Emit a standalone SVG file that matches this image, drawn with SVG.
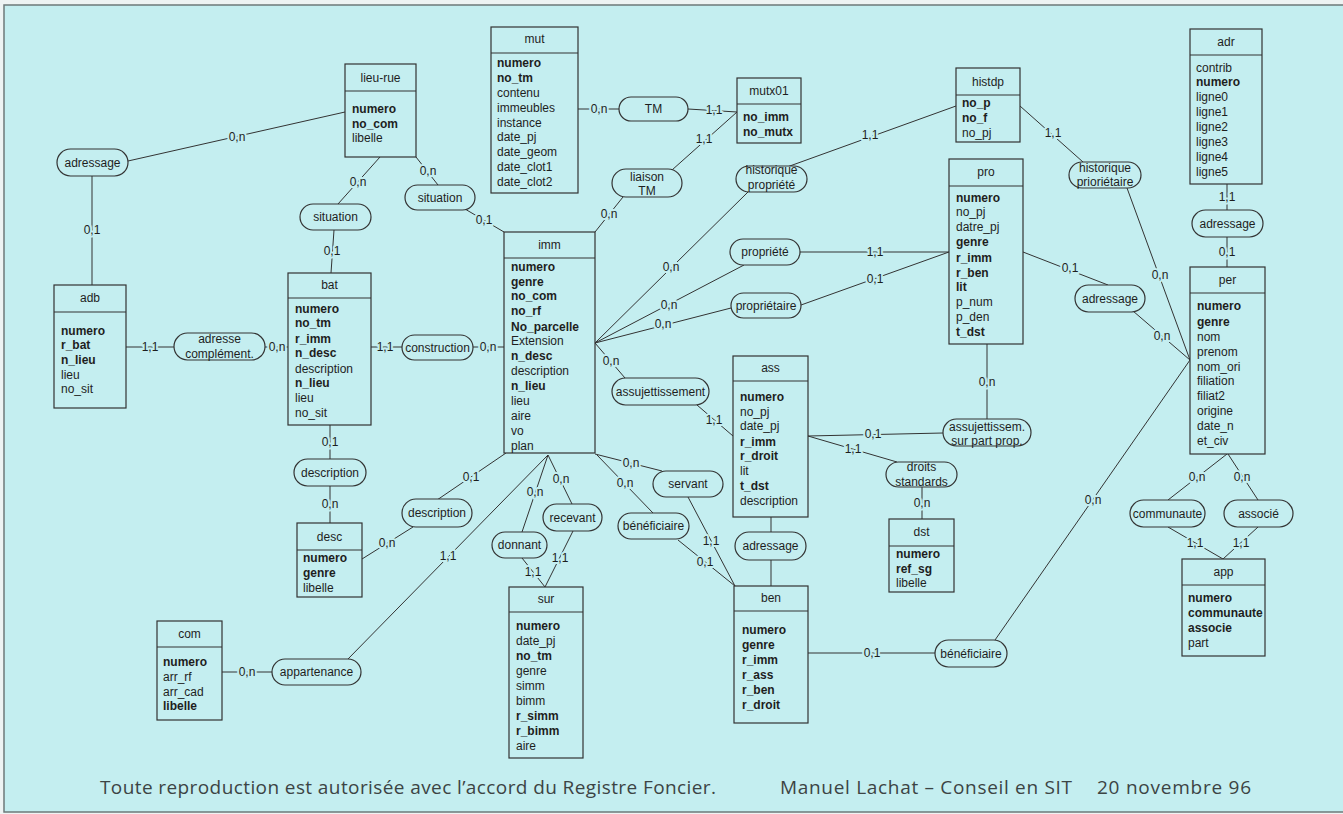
<svg xmlns="http://www.w3.org/2000/svg" width="1343" height="814" viewBox="0 0 1343 814">
<style>
.bg{fill:#c4eef0}
.frame{fill:none;stroke:#6d7a7a;stroke-width:1.5}
.box{fill:#c4eef0;stroke:#333;stroke-width:1.2}
.div{stroke:#333;stroke-width:1.2}
.rel{fill:#c4eef0;stroke:#333;stroke-width:1.2}
text{font-family:"Liberation Sans",Arial,sans-serif;font-size:12px;fill:#1e1e1e}
.ti,.c{text-anchor:middle}
.b{font-weight:bold}
#connectors line{stroke:#333;stroke-width:1}
.card{text-anchor:middle;stroke:#c4eef0;stroke-width:4;paint-order:stroke;stroke-linejoin:round}
.foot{font-family:"Open Sans","Liberation Sans",sans-serif;font-size:19px;fill:#3c4444}
</style>
<rect x="0" y="0" width="1343" height="814" fill="#eef3f3"/>
<rect class="bg" x="4" y="5" width="1345" height="807"/>
<rect class="frame" x="4" y="5" width="1345" height="807"/>

<g id="connectors">
<line x1="128" y1="161" x2="345" y2="112"/>
<line x1="92" y1="176" x2="92" y2="285"/>
<line x1="380" y1="157" x2="338" y2="204"/>
<line x1="334" y1="230" x2="331" y2="273"/>
<line x1="416" y1="157" x2="438" y2="185"/>
<line x1="465" y1="209" x2="504" y2="232"/>
<line x1="578" y1="109" x2="619" y2="109"/>
<line x1="688" y1="109" x2="737" y2="112"/>
<line x1="672" y1="170" x2="737" y2="112"/>
<line x1="623" y1="197" x2="595" y2="232"/>
<line x1="787" y1="167" x2="956" y2="106"/>
<line x1="748" y1="192" x2="595" y2="343"/>
<line x1="800" y1="252" x2="949" y2="252"/>
<line x1="744" y1="265" x2="595" y2="343"/>
<line x1="801" y1="305" x2="949" y2="252"/>
<line x1="731" y1="308" x2="595" y2="343"/>
<line x1="1020" y1="106" x2="1083" y2="162"/>
<line x1="1127" y1="188" x2="1190" y2="360"/>
<line x1="1227" y1="184" x2="1227" y2="210"/>
<line x1="1227" y1="237" x2="1227" y2="267"/>
<line x1="1023" y1="252" x2="1108" y2="285"/>
<line x1="1133" y1="311" x2="1190" y2="360"/>
<line x1="126" y1="347" x2="174" y2="347"/>
<line x1="265" y1="347" x2="288" y2="347"/>
<line x1="371" y1="347" x2="402" y2="347"/>
<line x1="473" y1="347" x2="504" y2="347"/>
<line x1="595" y1="343" x2="625" y2="378"/>
<line x1="697" y1="405" x2="733" y2="436"/>
<line x1="808" y1="436" x2="943" y2="433"/>
<line x1="808" y1="436" x2="897" y2="462"/>
<line x1="987" y1="344" x2="987" y2="419"/>
<line x1="922" y1="487" x2="922" y2="519"/>
<line x1="771" y1="517" x2="771" y2="532"/>
<line x1="771" y1="560" x2="771" y2="586"/>
<line x1="330" y1="425" x2="330" y2="459"/>
<line x1="330" y1="486" x2="330" y2="523"/>
<line x1="506" y1="453" x2="437" y2="500"/>
<line x1="413" y1="527" x2="362" y2="559"/>
<line x1="548" y1="455" x2="348" y2="659"/>
<line x1="222" y1="672" x2="272" y2="672"/>
<line x1="548" y1="455" x2="522" y2="532"/>
<line x1="548" y1="455" x2="572" y2="504"/>
<line x1="522" y1="558" x2="545" y2="587"/>
<line x1="573" y1="531" x2="545" y2="587"/>
<line x1="595" y1="454" x2="662" y2="471"/>
<line x1="688" y1="497" x2="735" y2="586"/>
<line x1="597" y1="455" x2="653" y2="513"/>
<line x1="678" y1="540" x2="735" y2="586"/>
<line x1="808" y1="653" x2="935" y2="653"/>
<line x1="995" y1="640" x2="1190" y2="360"/>
<line x1="1227" y1="454" x2="1168" y2="500"/>
<line x1="1228" y1="454" x2="1258" y2="500"/>
<line x1="1168" y1="527" x2="1223" y2="559"/>
<line x1="1258" y1="527" x2="1223" y2="559"/>
<text class="card" x="237" y="141">0,n</text>
<text class="card" x="92" y="234">0,1</text>
<text class="card" x="358" y="186">0,n</text>
<text class="card" x="332" y="255">0,1</text>
<text class="card" x="428" y="175">0,n</text>
<text class="card" x="484" y="224">0,1</text>
<text class="card" x="599" y="113">0,n</text>
<text class="card" x="714" y="114">1,1</text>
<text class="card" x="704" y="143">1,1</text>
<text class="card" x="609" y="218">0,n</text>
<text class="card" x="870" y="139">1,1</text>
<text class="card" x="671" y="271">0,n</text>
<text class="card" x="875" y="256">1,1</text>
<text class="card" x="669" y="309">0,n</text>
<text class="card" x="875" y="283">0,1</text>
<text class="card" x="663" y="328">0,n</text>
<text class="card" x="1053" y="137">1,1</text>
<text class="card" x="1160" y="279">0,n</text>
<text class="card" x="1227" y="201">1,1</text>
<text class="card" x="1227" y="256">0,1</text>
<text class="card" x="1070" y="272">0,1</text>
<text class="card" x="1162" y="340">0,n</text>
<text class="card" x="150" y="351">1,1</text>
<text class="card" x="277" y="351">0,n</text>
<text class="card" x="385" y="351">1,1</text>
<text class="card" x="488" y="351">0,n</text>
<text class="card" x="611" y="365">0,n</text>
<text class="card" x="714" y="424">1,1</text>
<text class="card" x="873" y="438">0,1</text>
<text class="card" x="853" y="453">1,1</text>
<text class="card" x="987" y="386">0,n</text>
<text class="card" x="922" y="507">0,n</text>
<text class="card" x="330" y="446">0,1</text>
<text class="card" x="330" y="508">0,n</text>
<text class="card" x="471" y="481">0,1</text>
<text class="card" x="387" y="547">0,n</text>
<text class="card" x="448" y="560">1,1</text>
<text class="card" x="247" y="676">0,n</text>
<text class="card" x="535" y="496">0,n</text>
<text class="card" x="561" y="483">0,n</text>
<text class="card" x="533" y="576">1,1</text>
<text class="card" x="560" y="562">1,1</text>
<text class="card" x="631" y="467">0,n</text>
<text class="card" x="711" y="545">1,1</text>
<text class="card" x="625" y="487">0,n</text>
<text class="card" x="705" y="566">0,1</text>
<text class="card" x="872" y="657">0,1</text>
<text class="card" x="1093" y="504">0,n</text>
<text class="card" x="1197" y="481">0,n</text>
<text class="card" x="1242" y="481">0,n</text>
<text class="card" x="1195" y="547">1,1</text>
<text class="card" x="1241" y="547">1,1</text>
</g>

<g id="lieu-rue"><rect class="box" x="345" y="64" width="71" height="93"/><line class="div" x1="345" y1="91" x2="416" y2="91"/><text class="ti" x="380.5" y="82">lieu-rue</text>
<text class="b" x="352" y="113">numero</text><text class="b" x="352" y="128">no_com</text><text x="352" y="142">libelle</text></g>

<g id="mut"><rect class="box" x="491" y="27" width="87" height="166"/><line class="div" x1="491" y1="53" x2="578" y2="53"/><text class="ti" x="534.5" y="43">mut</text>
<text class="b" x="497" y="67">numero</text><text class="b" x="497" y="82">no_tm</text><text x="497" y="97">contenu</text><text x="497" y="112">immeubles</text><text x="497" y="127">instance</text><text x="497" y="141">date_pj</text><text x="497" y="156">date_geom</text><text x="497" y="171">date_clot1</text><text x="497" y="186">date_clot2</text></g>

<g id="mutx01"><rect class="box" x="737" y="78" width="64" height="65"/><line class="div" x1="737" y1="104" x2="801" y2="104"/><text class="ti" x="769" y="95">mutx01</text>
<text class="b" x="743" y="121">no_imm</text><text class="b" x="743" y="136">no_mutx</text></g>

<g id="histdp"><rect class="box" x="956" y="68" width="64" height="74"/><line class="div" x1="956" y1="95" x2="1020" y2="95"/><text class="ti" x="988" y="86">histdp</text>
<text class="b" x="962" y="107">no_p</text><text class="b" x="962" y="122">no_f</text><text x="962" y="137">no_pj</text></g>

<g id="adr"><rect class="box" x="1190" y="29" width="72" height="155"/><line class="div" x1="1190" y1="55" x2="1262" y2="55"/><text class="ti" x="1226" y="46">adr</text>
<text x="1196" y="72">contrib</text><text class="b" x="1196" y="86">numero</text><text x="1196" y="101">ligne0</text><text x="1196" y="116">ligne1</text><text x="1196" y="131">ligne2</text><text x="1196" y="146">ligne3</text><text x="1196" y="161">ligne4</text><text x="1196" y="176">ligne5</text></g>

<g id="pro"><rect class="box" x="949" y="159" width="74" height="185"/><line class="div" x1="949" y1="186" x2="1023" y2="186"/><text class="ti" x="986" y="176">pro</text>
<text class="b" x="956" y="202">numero</text><text x="956" y="216">no_pj</text><text x="956" y="231">datre_pj</text><text class="b" x="956" y="246">genre</text><text class="b" x="956" y="262">r_imm</text><text class="b" x="956" y="277">r_ben</text><text class="b" x="956" y="291">lit</text><text x="956" y="306">p_num</text><text x="956" y="321">p_den</text><text class="b" x="956" y="336">t_dst</text></g>

<g id="per"><rect class="box" x="1190" y="267" width="75" height="187"/><line class="div" x1="1190" y1="293" x2="1265" y2="293"/><text class="ti" x="1227.5" y="284">per</text>
<text class="b" x="1197" y="310">numero</text><text class="b" x="1197" y="326">genre</text><text x="1197" y="341">nom</text><text x="1197" y="356">prenom</text><text x="1197" y="371">nom_ori</text><text x="1197" y="385">filiation</text><text x="1197" y="400">filiat2</text><text x="1197" y="415">origine</text><text x="1197" y="430">date_n</text><text x="1197" y="445">et_civ</text></g>

<g id="imm"><rect class="box" x="504" y="232" width="91" height="221"/><line class="div" x1="504" y1="258" x2="595" y2="258"/><text class="ti" x="549.5" y="249">imm</text>
<text class="b" x="511" y="271">numero</text><text class="b" x="511" y="286">genre</text><text class="b" x="511" y="300">no_com</text><text class="b" x="511" y="315">no_rf</text><text class="b" x="511" y="331">No_parcelle</text><text x="511" y="345">Extension</text><text class="b" x="511" y="360">n_desc</text><text x="511" y="375">description</text><text class="b" x="511" y="390">n_lieu</text><text x="511" y="405">lieu</text><text x="511" y="420">aire</text><text x="511" y="435">vo</text><text x="511" y="450">plan</text></g>

<g id="bat"><rect class="box" x="288" y="273" width="83" height="152"/><line class="div" x1="288" y1="298" x2="371" y2="298"/><text class="ti" x="329.5" y="289">bat</text>
<text class="b" x="295" y="313">numero</text><text class="b" x="295" y="327">no_tm</text><text class="b" x="295" y="343">r_imm</text><text class="b" x="295" y="357">n_desc</text><text x="295" y="373">description</text><text class="b" x="295" y="387">n_lieu</text><text x="295" y="402">lieu</text><text x="295" y="417">no_sit</text></g>

<g id="adb"><rect class="box" x="54" y="285" width="72" height="123"/><line class="div" x1="54" y1="312" x2="126" y2="312"/><text class="ti" x="90" y="302">adb</text>
<text class="b" x="61" y="335">numero</text><text class="b" x="61" y="349">r_bat</text><text class="b" x="61" y="364">n_lieu</text><text x="61" y="379">lieu</text><text x="61" y="393">no_sit</text></g>

<g id="ass"><rect class="box" x="733" y="356" width="75" height="161"/><line class="div" x1="733" y1="381" x2="808" y2="381"/><text class="ti" x="770.5" y="372">ass</text>
<text class="b" x="740" y="401">numero</text><text x="740" y="416">no_pj</text><text x="740" y="430">date_pj</text><text class="b" x="740" y="446">r_imm</text><text class="b" x="740" y="460">r_droit</text><text x="740" y="475">lit</text><text class="b" x="740" y="490">t_dst</text><text x="740" y="505">description</text></g>

<g id="dst"><rect class="box" x="889" y="519" width="65" height="73"/><line class="div" x1="889" y1="546" x2="954" y2="546"/><text class="ti" x="921.5" y="536">dst</text>
<text class="b" x="896" y="558">numero</text><text class="b" x="896" y="573">ref_sg</text><text x="896" y="587">libelle</text></g>

<g id="ben"><rect class="box" x="734" y="586" width="74" height="137"/><line class="div" x1="734" y1="611" x2="808" y2="611"/><text class="ti" x="771" y="602">ben</text>
<text class="b" x="742" y="634">numero</text><text class="b" x="742" y="649">genre</text><text class="b" x="742" y="664">r_imm</text><text class="b" x="742" y="679">r_ass</text><text class="b" x="742" y="694">r_ben</text><text class="b" x="742" y="709">r_droit</text></g>

<g id="sur"><rect class="box" x="509" y="587" width="74" height="171"/><line class="div" x1="509" y1="612" x2="583" y2="612"/><text class="ti" x="546" y="603">sur</text>
<text class="b" x="516" y="630">numero</text><text x="516" y="645">date_pj</text><text class="b" x="516" y="660">no_tm</text><text x="516" y="675">genre</text><text x="516" y="690">simm</text><text x="516" y="705">bimm</text><text class="b" x="516" y="720">r_simm</text><text class="b" x="516" y="735">r_bimm</text><text x="516" y="750">aire</text></g>

<g id="desc"><rect class="box" x="297" y="523" width="65" height="74"/><line class="div" x1="297" y1="550" x2="362" y2="550"/><text class="ti" x="329.5" y="541">desc</text>
<text class="b" x="303" y="562">numero</text><text class="b" x="303" y="577">genre</text><text x="303" y="592">libelle</text></g>

<g id="com"><rect class="box" x="157" y="621" width="65" height="99"/><line class="div" x1="157" y1="647" x2="222" y2="647"/><text class="ti" x="189.5" y="638">com</text>
<text class="b" x="163" y="666">numero</text><text x="163" y="681">arr_rf</text><text x="163" y="696">arr_cad</text><text class="b" x="163" y="710">libelle</text></g>

<g id="app"><rect class="box" x="1182" y="559" width="83" height="97"/><line class="div" x1="1182" y1="585" x2="1265" y2="585"/><text class="ti" x="1223.5" y="576">app</text>
<text class="b" x="1188" y="602">numero</text><text class="b" x="1188" y="617">communaute</text><text class="b" x="1188" y="632">associe</text><text x="1188" y="647">part</text></g>

<g id="r-adressage-1"><rect class="rel" x="57" y="149" width="71" height="27" rx="13.5"/><text class="c" x="92.5" y="166.5">adressage</text></g>
<g id="r-situation-1"><rect class="rel" x="300" y="204" width="71" height="26" rx="13"/><text class="c" x="335.5" y="221">situation</text></g>
<g id="r-situation-2"><rect class="rel" x="405" y="185" width="70" height="25" rx="12.5"/><text class="c" x="440" y="201.5">situation</text></g>
<g id="r-tm"><rect class="rel" x="619" y="97" width="69" height="24" rx="12"/><text class="c" x="653.5" y="113">TM</text></g>
<g id="r-liaison-tm"><rect class="rel" x="612" y="169" width="70" height="28" rx="14"/><text class="c" x="647" y="181">liaison</text><text class="c" x="647" y="195">TM</text></g>
<g id="r-hist-prop"><rect class="rel" x="736" y="166" width="71" height="26" rx="13"/><text class="c" x="771.5" y="174">historique</text><text class="c" x="771.5" y="189">propriété</text></g>
<g id="r-hist-prio"><rect class="rel" x="1069" y="162" width="72" height="26" rx="13"/><text class="c" x="1105" y="172">historique</text><text class="c" x="1105" y="186">prioriétaire</text></g>
<g id="r-adressage-adr"><rect class="rel" x="1192" y="210" width="71" height="27" rx="13.5"/><text class="c" x="1227.5" y="227.5">adressage</text></g>
<g id="r-propriete"><rect class="rel" x="730" y="239" width="70" height="26" rx="13"/><text class="c" x="765" y="256">propriété</text></g>
<g id="r-proprietaire"><rect class="rel" x="731" y="293" width="70" height="25" rx="12.5"/><text class="c" x="766" y="309.5">propriétaire</text></g>
<g id="r-adressage-pro"><rect class="rel" x="1075" y="285" width="70" height="27" rx="13.5"/><text class="c" x="1110" y="302.5">adressage</text></g>
<g id="r-adr-compl"><rect class="rel" x="174" y="333" width="91" height="27" rx="13.5"/><text class="c" x="219.5" y="343">adresse</text><text class="c" x="219.5" y="358">complément.</text></g>
<g id="r-construction"><rect class="rel" x="402" y="335" width="71" height="25" rx="12.5"/><text class="c" x="437.5" y="351.5">construction</text></g>
<g id="r-assujettissement"><rect class="rel" x="612" y="378" width="97" height="27" rx="13.5"/><text class="c" x="660.5" y="395.5">assujettissement</text></g>
<g id="r-assuj-part"><rect class="rel" x="943" y="419" width="88" height="27" rx="13.5"/><text class="c" x="987" y="431">assujettissem.</text><text class="c" x="987" y="445">sur part prop.</text></g>
<g id="r-droits"><rect class="rel" x="886" y="462" width="71" height="25" rx="12.5"/><text class="c" x="921.5" y="471">droits</text><text class="c" x="921.5" y="486">standards</text></g>
<g id="r-description-1"><rect class="rel" x="294" y="459" width="72" height="27" rx="13.5"/><text class="c" x="330" y="476.5">description</text></g>
<g id="r-description-2"><rect class="rel" x="402" y="499" width="70" height="28" rx="14"/><text class="c" x="437" y="517">description</text></g>
<g id="r-servant"><rect class="rel" x="653" y="471" width="70" height="26" rx="13"/><text class="c" x="688" y="488">servant</text></g>
<g id="r-beneficiaire-1"><rect class="rel" x="618" y="513" width="71" height="26" rx="13"/><text class="c" x="653.5" y="530">bénéficiaire</text></g>
<g id="r-recevant"><rect class="rel" x="543" y="504" width="59" height="27" rx="13.5"/><text class="c" x="572.5" y="521.5">recevant</text></g>
<g id="r-donnant"><rect class="rel" x="492" y="532" width="55" height="26" rx="13"/><text class="c" x="519.5" y="549">donnant</text></g>
<g id="r-adressage-ben"><rect class="rel" x="735" y="532" width="71" height="28" rx="14"/><text class="c" x="770.5" y="550">adressage</text></g>
<g id="r-communaute"><rect class="rel" x="1130" y="500" width="75" height="27" rx="13.5"/><text class="c" x="1167.5" y="517.5">communaute</text></g>
<g id="r-associe"><rect class="rel" x="1224" y="500" width="69" height="27" rx="13.5"/><text class="c" x="1258.5" y="517.5">associé</text></g>
<g id="r-beneficiaire-2"><rect class="rel" x="935" y="640" width="72" height="27" rx="13.5"/><text class="c" x="971" y="657.5">bénéficiaire</text></g>
<g id="r-appartenance"><rect class="rel" x="272" y="659" width="89" height="26" rx="13"/><text class="c" x="316.5" y="676">appartenance</text></g>

<g id="footer">
<text class="foot" x="100" y="794" textLength="616">Toute reproduction est autorisée avec l’accord du Registre Foncier.</text>
<text class="foot" x="780" y="794" textLength="292">Manuel Lachat – Conseil en SIT</text>
<text class="foot" x="1097" y="794" textLength="154">20 novembre 96</text>
</g>
</svg>
